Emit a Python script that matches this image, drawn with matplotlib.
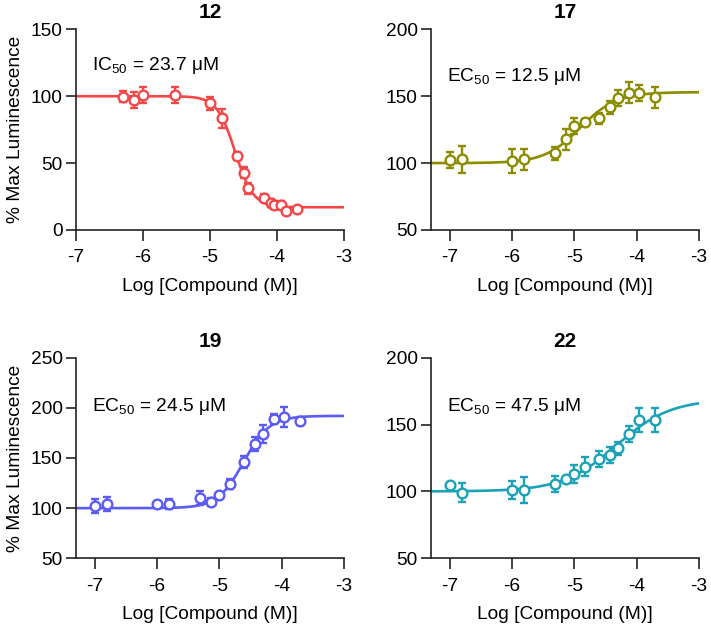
import numpy as np
import matplotlib
matplotlib.use("Agg")
import matplotlib.pyplot as plt

plt.rcParams['font.family'] = ['Liberation Sans', 'DejaVu Sans']
plt.rcParams['mathtext.fontset'] = 'custom'
plt.rcParams['mathtext.rm'] = 'Liberation Sans'
plt.rcParams['mathtext.default'] = 'regular'

# ---- data (log M, % max luminescence, error) ----
titles = ["12", "17", "19", "22"]
labels = ["IC$_{50}$ = 23.7 μM", "EC$_{50}$ = 12.5 μM",
          "EC$_{50}$ = 24.5 μM", "EC$_{50}$ = 47.5 μM"]
colors = ["#F44848", "#8C8C00", "#5B5BF5", "#1BA2B8"]

x12 = [-6.30, -6.13, -6.00, -5.52, -5.00, -4.82, -4.60, -4.49, -4.43,
       -4.20, -4.09, -4.05, -3.94, -3.86, -3.70]
y12 = [99.7, 97.2, 101.0, 101.0, 94.7, 83.5, 55.3, 42.9, 31.1,
       23.7, 20.4, 18.7, 18.7, 14.5, 15.5]
e12 = [4, 6, 6, 6, 5, 7, 3, 4, 4, 3, 3, 3, 3, 2, 2]

x_ec = [-7.00, -6.81, -6.00, -5.81, -5.31, -5.13, -5.00, -4.83, -4.60,
        -4.43, -4.30, -4.13, -3.96, -3.70]
y17 = [102.3, 102.8, 101.8, 102.8, 107.3, 117.8, 127.7, 131.0, 133.5,
       141.7, 148.4, 152.7, 152.2, 149.2]
e17 = [6, 10, 9, 8, 5, 8, 6, 2, 4, 5, 6, 8, 6, 8]
y19 = [102.0, 104.0, 104.5, 104.0, 110.0, 106.0, 113.0, 124.0, 146.0,
       163.6, 174.0, 188.5, 190.5, 187.0]
e19 = [7, 7, 2, 5, 7, 4, 2, 5, 6, 7, 9, 5, 10, 4]
y22 = [104.8, 99.1, 101.0, 101.0, 105.6, 109.3, 113.0, 118.5, 124.3,
       127.2, 132.2, 143.0, 153.4, 153.4]
e22 = [1, 7, 7, 10, 6, 2, 7, 7, 6, 6, 5, 6, 9, 9]

# four-parameter fit: bottom, top, log EC50/IC50, hill slope
fits = [(17, 100, np.log10(23.7e-6), -3.2),
        (100, 153, np.log10(12.5e-6), 1.5),
        (100, 192, np.log10(24.5e-6), 2.1),
        (100, 169, np.log10(47.5e-6), 1.0)]

xs = [x12, x_ec, x_ec, x_ec]
ys = [y12, y17, y19, y22]
es = [e12, e17, e19, e22]
xlims = [(-7, -3), (-7.3, -3), (-7.3, -3), (-7.3, -3)]
ylims = [(0, 150), (50, 200), (50, 250), (50, 200)]
label_y = [0.82, 0.765, 0.756, 0.756]

W, H = 711, 625
boxes = [(76, 29.3, 344, 230), (431, 29.3, 699, 230),
         (76, 357.7, 344, 558.3), (431, 357.7, 699, 558.3)]

fig = plt.figure(figsize=(W / 100, H / 100), dpi=100)
fs = 13.8

for i in range(4):
    l, t, r, b = boxes[i]
    ax = fig.add_axes([l / W, 1 - b / H, (r - l) / W, (b - t) / H])
    bot, top, lec, hill = fits[i]
    xc = np.linspace(xlims[i][0], xlims[i][1], 400)
    yc = bot + (top - bot) / (1 + 10 ** ((lec - xc) * hill))
    ax.plot(xc, yc, color=colors[i], lw=1.9, zorder=2)
    ax.errorbar(xs[i], ys[i], yerr=es[i], fmt='o', color=colors[i],
                mfc='white', mec=colors[i], mew=1.7, ms=7,
                elinewidth=1.7, capsize=3, capthick=1.7, zorder=3)
    ax.set_xlim(*xlims[i])
    ax.set_ylim(*ylims[i])
    ax.set_xticks([-7, -6, -5, -4, -3])
    ax.set_xticklabels(["-7", "-6", "-5", "-4", "-3"])
    ax.set_yticks(np.arange(ylims[i][0], ylims[i][1] + 1, 50))
    for s in ['top', 'right']:
        ax.spines[s].set_visible(False)
    for s in ['left', 'bottom']:
        ax.spines[s].set_linewidth(1.2)
        ax.spines[s].set_color('#222222')
    ax.tick_params(width=1.2, labelsize=fs, color='#222222')
    ax.tick_params(axis='x', length=8, pad=6)
    ax.tick_params(axis='y', length=7.5, pad=2)
    ax.set_xlabel("Log [Compound (M)]", fontsize=fs, labelpad=8)
    if i % 2 == 0:
        ax.set_ylabel("% Max Luminescence", fontsize=fs, labelpad=5)
    ax.set_title(titles[i], fontsize=15, fontweight='bold', pad=8)
    ax.text(0.06, label_y[i], labels[i], transform=ax.transAxes,
            fontsize=fs, va='center', ha='left')

fig.savefig("out.png", dpi=100)
